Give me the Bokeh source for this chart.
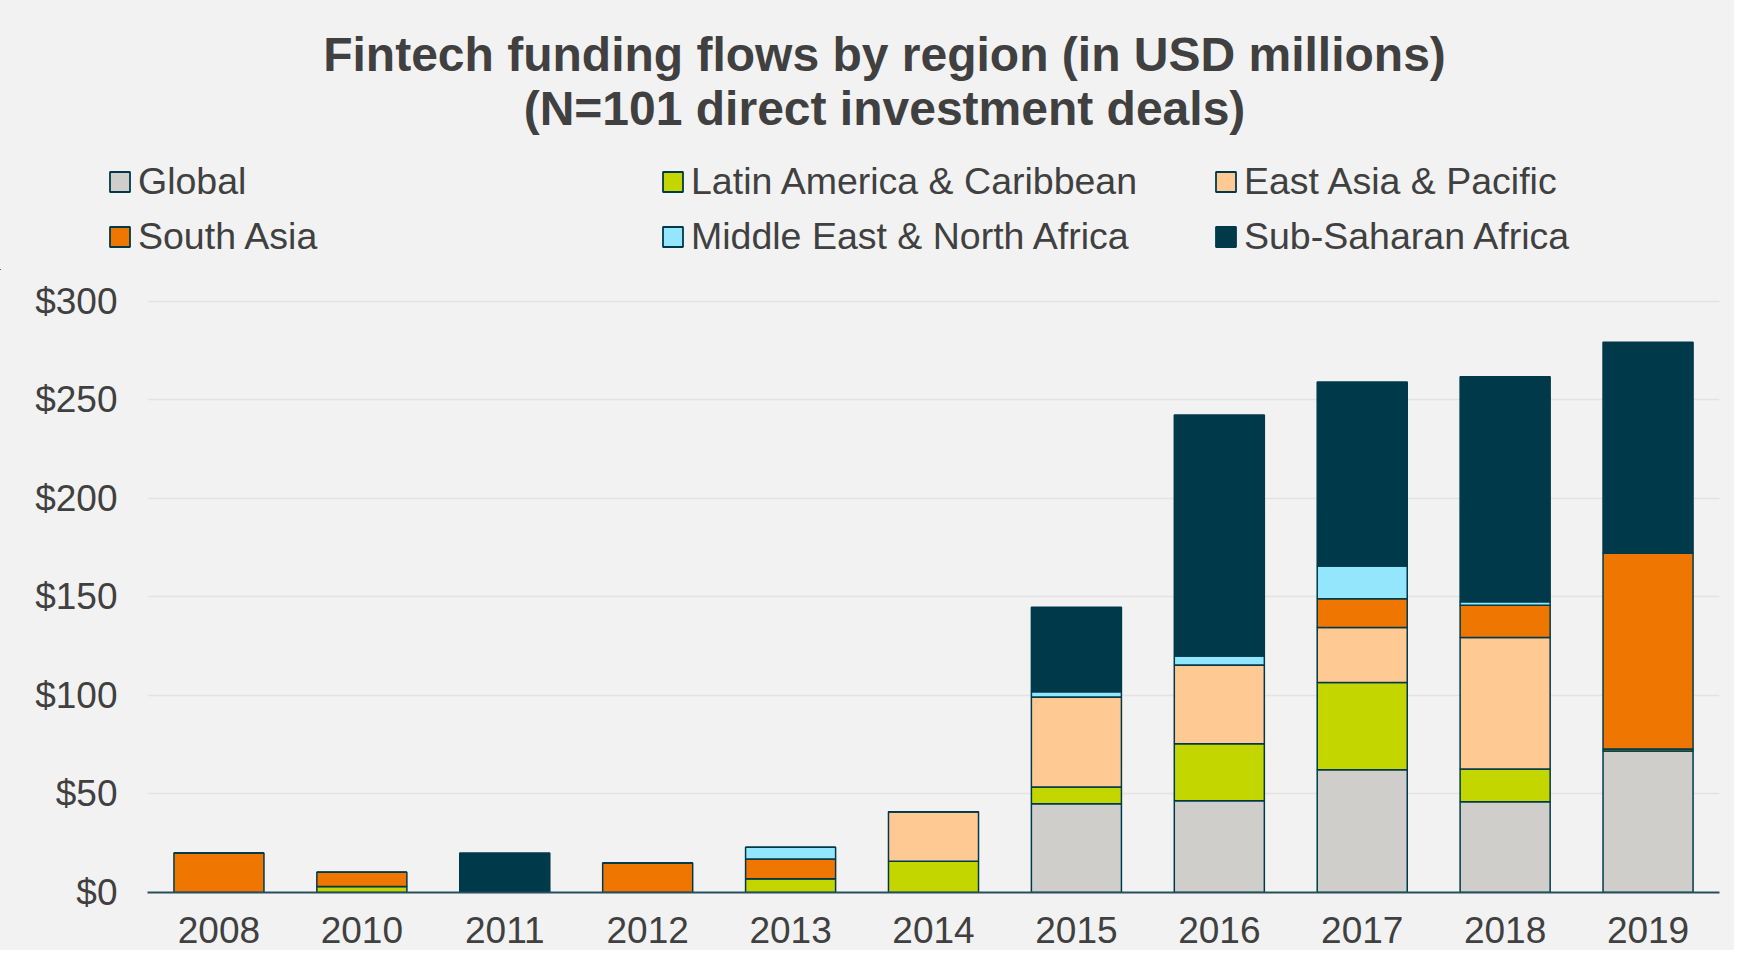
from bokeh.plotting import figure
from bokeh.layouts import column
from bokeh.models import (ColumnDataSource, FactorRange, Range1d, FixedTicker,
                          PrintfTickFormatter, Legend, LegendItem, Label)
from bokeh.embed import file_html
from bokeh.resources import INLINE

years = ["2008", "2010", "2011", "2012", "2013", "2014", "2015", "2016", "2017", "2018", "2019"]
series_names = ["Global", "Latin America & Caribbean", "East Asia & Pacific",
                "South Asia", "Middle East & North Africa", "Sub-Saharan Africa"]
global_vals = [0, 0, 0, 0, 0, 0, 45.0, 46.5, 62.3, 46.1, 71.8]
latam_vals = [0, 3.0, 0, 0, 7.0, 15.8, 8.5, 29.0, 44.3, 16.5, 1.0]
eap_vals = [0, 0, 0, 0, 0, 25.2, 45.7, 39.9, 27.8, 66.8, 0]
south_asia_vals = [20.0, 7.3, 0, 15.0, 10.0, 0, 0, 0, 14.6, 16.3, 99.4]
mena_vals = [0, 0, 0, 0, 6.0, 0, 2.7, 4.6, 16.6, 1.8, 0]
ssa_vals = [0, 0, 20.0, 0, 0, 0, 42.8, 122.2, 93.4, 114.2, 107.0]
colors = ["#d0cecb", "#c4d600", "#ffc993", "#ee7601", "#93e6fc", "#003a4a"]
y_ticks = [0, 50, 100, 150, 200, 250, 300]
title_lines = ["Fintech funding flows by region (in USD millions)",
               "(N=101 direct investment deals)"]

keys = ["glob", "latam", "eap", "sa", "mena", "ssa"]
source = ColumnDataSource(dict(year=years, glob=global_vals, latam=latam_vals, eap=eap_vals,
                               sa=south_asia_vals, mena=mena_vals, ssa=ssa_vals))

FONT = "Liberation Sans"
TXT = "#404040"
BG = "#f2f2f2"
EDGE = "#003a4a"
W = 1734
H = 950
HEAD_H = 270

# ---------------- header: title + legend ----------------
head = figure(width=W, height=HEAD_H, x_range=Range1d(0, W), y_range=Range1d(0, HEAD_H),
              x_axis_type=None, y_axis_type=None, output_backend="svg", toolbar_location=None,
              min_border=0, min_border_left=0, min_border_right=0,
              min_border_top=0, min_border_bottom=0)
head.frame_align = False
head.title.visible = False
head.background_fill_color = BG
head.border_fill_color = BG
head.outline_line_color = None
head.grid.visible = False

for txt, yc in zip(title_lines, [53.6, 108.0]):
    head.add_layout(Label(x=884, y=HEAD_H - yc, text=txt, text_align="center",
                          text_baseline="middle", text_font=FONT, text_font_style="bold",
                          text_font_size="48px", text_color=TXT))

# legend swatches: one far off-canvas zero-height bar per series so the legend can draw them
swatch_src = ColumnDataSource(dict(x=[-5000], top=[-5000], bottom=[-5000]))
swatches = [head.vbar(x="x", top="top", bottom="bottom", width=1, source=swatch_src,
                      fill_color=c, line_color=EDGE, line_width=1.8) for c in colors]
items = [LegendItem(label=n, renderers=[r]) for n, r in zip(series_names, swatches)]
legend = Legend(items=items, location=(107, HEAD_H - 258), orientation="horizontal",
                nrows=2, glyph_width=25, glyph_height=25, label_standoff=6, label_width=510,
                label_height=43, spacing=12, padding=0, margin=0,
                label_text_font=FONT, label_text_font_size="37.5px", label_text_color=TXT,
                border_line_alpha=0, background_fill_alpha=0)
head.add_layout(legend, "center")

# ---------------- main chart ----------------
p = figure(x_range=FactorRange(factors=years, range_padding=0), y_range=Range1d(0, 311),
           width=W, height=H - HEAD_H, output_backend="svg", toolbar_location=None,
           min_border_left=147, min_border_right=15, min_border_top=9,
           min_border_bottom=58)
p.frame_align = False
p.title.visible = False
p.background_fill_color = BG
p.border_fill_color = BG
p.outline_line_color = None

renderers = p.vbar_stack(keys, x="year", width=0.63, source=source, fill_color=colors,
                         line_color=EDGE, line_width=1.5)

p.yaxis.ticker = FixedTicker(ticks=y_ticks)
p.yaxis.formatter = PrintfTickFormatter(format="$%d")
p.yaxis.axis_line_color = None
p.yaxis.major_tick_line_color = None
p.yaxis.minor_tick_line_color = None
p.yaxis.major_label_standoff = 24
p.yaxis.major_label_text_font = FONT
p.yaxis.major_label_text_font_size = "37px"
p.yaxis.major_label_text_color = TXT

p.xaxis.axis_line_color = "#264f5c"
p.xaxis.axis_line_width = 2
p.xaxis.major_tick_line_color = None
p.xaxis.minor_tick_line_color = None
p.xaxis.major_label_standoff = 18
p.xaxis.major_label_text_font = FONT
p.xaxis.major_label_text_font_size = "37px"
p.xaxis.major_label_text_color = TXT

p.xgrid.grid_line_color = None
p.ygrid.grid_line_color = "#e3e3e3"
p.ygrid.grid_line_width = 1.5

layout = column(head, p, spacing=0)
layout.styles = {"background-color": BG}
open("out.html", "w").write(file_html(layout, INLINE))
